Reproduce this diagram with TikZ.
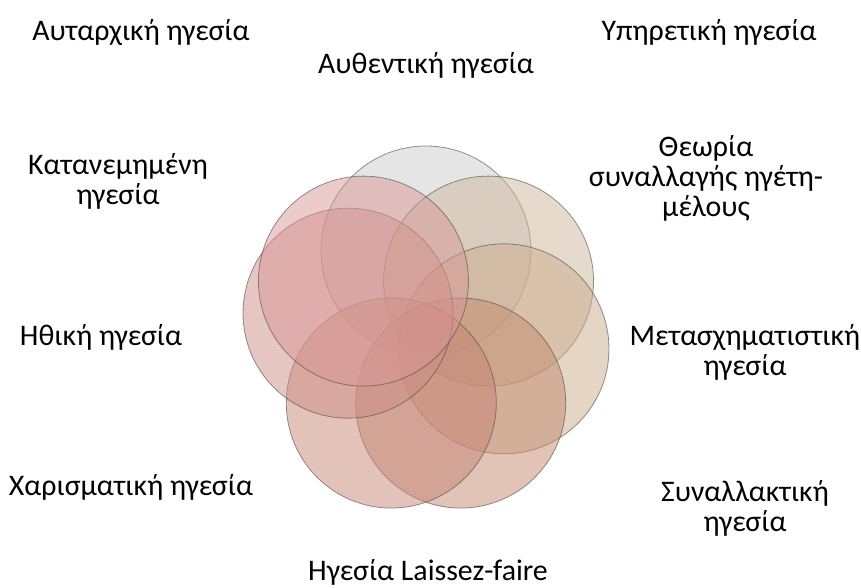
\documentclass[tikz,border=0pt]{standalone}
\usepackage{fontspec}
\setmainfont{Carlito}
\definecolor{ringgray}{RGB}{203,203,203}
\definecolor{ringtanA}{RGB}{203,181,153}
\definecolor{ringtanB}{RGB}{203,171,139}
\definecolor{ringrustA}{RGB}{195,137,109}
\definecolor{ringrustB}{RGB}{199,133,117}
\definecolor{ringroseA}{RGB}{205,141,133}
\definecolor{ringroseB}{RGB}{217,151,151}
\tikzstyle{ringdisc} = [draw=black!70, draw opacity=0.6, line width=0.6pt, circle, fill opacity=0.5, minimum size=157.5pt, inner sep=0pt]
\tikzstyle{lbl} = [align=center, font=\fontsize{22.4}{22.5}\selectfont, inner sep=0pt]
\newcommand{\ringdisc}[3]{
\node[ringdisc, fill=#3] (#1) at (#2:80) {};
}

\begin{document}
\begin{tikzpicture}[x=0.75pt, y=0.75pt]
\useasboundingbox (0,0) rectangle (861,588);
\begin{scope}[shift={(426,257)}]
\ringdisc{top}{90}{ringgray}
\ringdisc{upright}{38.57}{ringtanA}
\ringdisc{right}{-12.86}{ringtanB}
\ringdisc{lowright}{-64.29}{ringrustA}
\ringdisc{lowleft}{-115.71}{ringrustB}
\ringdisc{left}{167.14}{ringroseA}
\ringdisc{upleft}{141.43}{ringroseB}
\end{scope}

\node[lbl] (autarch) at (141,555) {Αυταρχική ηγεσία};
\node[lbl] (authent) at (426,523) {Αυθεντική ηγεσία};
\node[lbl] (servant) at (709,556) {Υπηρετική ηγεσία};
\node[lbl] (lmx) at (706,410) {Θεωρία\\συναλλαγής ηγέτη-\\μέλους};
\node[lbl] (distrib) at (118,407) {Κατανεμημένη\\ηγεσία};
\node[lbl] (ethical) at (101,251) {Ηθική ηγεσία};
\node[lbl] (charism) at (131,101) {Χαρισματική ηγεσία};
\node[lbl] (transf) at (745,236) {Μετασχηματιστική\\ηγεσία};
\node[lbl] (transact) at (745,80) {Συναλλακτική\\ηγεσία};
\node[lbl] (laissez) at (428,16) {Ηγεσία Laissez-faire};
\end{tikzpicture}
\end{document}
